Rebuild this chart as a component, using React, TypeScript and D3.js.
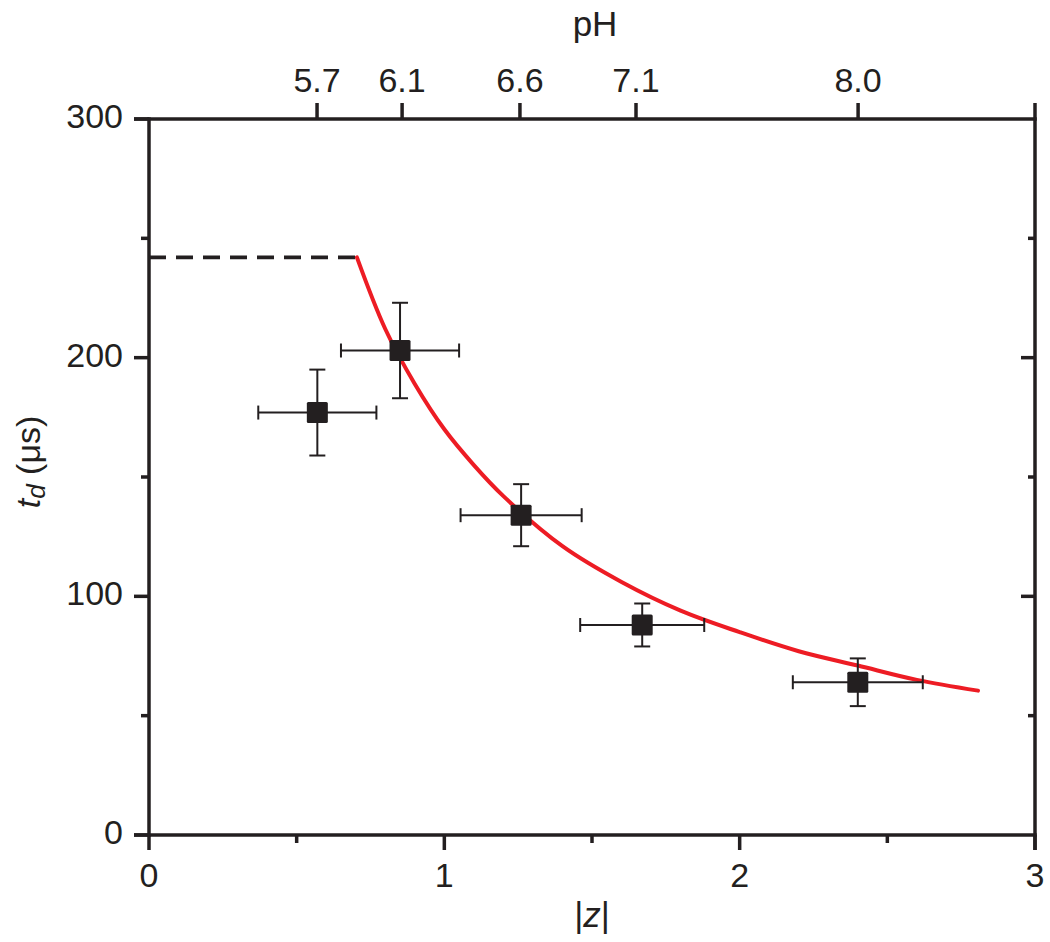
import React from "react";
import * as d3 from "d3";

// ---- data ----
const zValues = [0.57, 0.85, 1.26, 1.67, 2.4];
const tdValues = [177, 203, 134, 88, 64];
const zErrors = [0.2, 0.2, 0.205, 0.21, 0.22];
const tdErrors = [18, 20, 13, 9, 10];

const fitZ = [0.704, 0.8, 0.9, 1.0, 1.1, 1.2, 1.4, 1.6, 1.8, 2.0, 2.2, 2.4, 2.6, 2.807];
const fitTd = [242, 212, 189, 170, 155, 142, 121, 106, 94, 85, 77, 71, 65, 60.5];

const plateauZ = [0, 0.704];
const plateauTd = [242, 242];

const xMajorTicks = [0, 1, 2, 3];
const xMinorTicks = [0.5, 1.5, 2.5];
const yMajorTicks = [0, 100, 200, 300];
const yMinorTicks = [50, 150, 250];

const pHTickPos = [0.569, 0.857, 1.256, 1.649, 2.401];
const pHTickLabels = ["5.7", "6.1", "6.6", "7.1", "8.0"];

// ---- layout ----
const W = 1050;
const H = 942;
const left = 149;
const right = 1035;
const top = 119;
const bottom = 835;
const FONT = "'Liberation Sans', Arial, Helvetica, sans-serif";
const INK = "#231f20";
const RED = "#ed1c24";
const AXW = 3.5;
const MAJ = 15;
const MIN = 8;

export default function App() {
  const x = d3.scaleLinear().domain([0, 3]).range([left, right]);
  const y = d3.scaleLinear().domain([0, 300]).range([bottom, top]);

  const fitLine = d3
    .line<number>()
    .x((_, i) => x(fitZ[i]))
    .y((d) => y(d))
    .curve(d3.curveCatmullRom.alpha(0.5));
  const plateauLine = d3
    .line<number>()
    .x((_, i) => x(plateauZ[i]))
    .y((d) => y(d));

  return (
    <svg
      width={W}
      height={H}
      viewBox={`0 0 ${W} ${H}`}
      style={{ position: "absolute", left: 0, top: 0, background: "#fff" }}
      fontFamily={FONT}
    >
      <rect x={0} y={0} width={W} height={H} fill="#fff" />

      {/* axes frame */}
      <g stroke={INK} strokeWidth={AXW} strokeLinecap="butt" fill="none">
        <line x1={left} y1={top - AXW / 2} x2={left} y2={bottom + AXW / 2} />
        <line x1={right} y1={top - 16} x2={right} y2={bottom + MAJ} />
        <line x1={left - MAJ} y1={top} x2={right + AXW / 2} y2={top} />
        <line x1={left - MAJ} y1={bottom} x2={right + AXW / 2} y2={bottom} />

        {/* left ticks (outward) */}
        {yMajorTicks.map((t) => (
          <line key={"ly" + t} x1={left - MAJ} x2={left} y1={y(t)} y2={y(t)} />
        ))}
        {yMinorTicks.map((t) => (
          <line key={"lym" + t} x1={left - MIN} x2={left} y1={y(t)} y2={y(t)} />
        ))}
        {/* right ticks (inward) */}
        {yMajorTicks
          .filter((t) => t !== 0 && t !== 300)
          .map((t) => (
            <line key={"ry" + t} x1={right - 14} x2={right} y1={y(t)} y2={y(t)} />
          ))}
        {yMinorTicks.map((t) => (
          <line key={"rym" + t} x1={right - 7} x2={right} y1={y(t)} y2={y(t)} />
        ))}
        {/* bottom ticks (outward) */}
        {xMajorTicks.map((t) => (
          <line key={"bx" + t} x1={x(t)} x2={x(t)} y1={bottom} y2={bottom + MAJ} />
        ))}
        {xMinorTicks.map((t) => (
          <line key={"bxm" + t} x1={x(t)} x2={x(t)} y1={bottom} y2={bottom + MIN} />
        ))}
        {/* top pH ticks (outward) */}
        {pHTickPos.map((t) => (
          <line key={"tx" + t} x1={x(t)} x2={x(t)} y1={top} y2={top - 16} />
        ))}
      </g>

      {/* tick labels */}
      <g fill={INK} fontSize={34}>
        {yMajorTicks.map((t) => (
          <text key={"lyl" + t} x={left - 26} y={y(t) + 9} textAnchor="end">
            {t}
          </text>
        ))}
        {xMajorTicks.map((t) => (
          <text key={"bxl" + t} x={x(t)} y={887} textAnchor="middle">
            {t}
          </text>
        ))}
        {pHTickPos.map((t, i) => (
          <text key={"txl" + t} x={x(t)} y={92} textAnchor="middle">
            {pHTickLabels[i]}
          </text>
        ))}
      </g>

      {/* axis titles */}
      <text x={(left + right) / 2 + 3} y={36} textAnchor="middle" fontSize={35} fill={INK}>
        pH
      </text>
      <text x={(left + right) / 2} y={927} textAnchor="middle" fontSize={35} fill={INK}>
        |<tspan fontStyle="italic">z</tspan>|
      </text>
      <text
        transform={`translate(40, 462) rotate(-90)`}
        textAnchor="middle"
        fontSize={34}
        fill={INK}
      >
        <tspan fontStyle="italic">t</tspan>
        <tspan fontStyle="italic" fontSize={26} dy={5}>
          d
        </tspan>
        <tspan dy={-5}> (μs)</tspan>
      </text>

      {/* plateau dashed line */}
      <path
        d={plateauLine(plateauTd) || ""}
        fill="none"
        stroke={INK}
        strokeWidth={3.8}
        strokeDasharray="17 10"
      />

      {/* fit curve */}
      <path
        d={fitLine(fitTd) || ""}
        fill="none"
        stroke={RED}
        strokeWidth={4}
        strokeLinecap="round"
      />

      {/* data points with error bars */}
      {zValues.map((z, i) => {
        const cx = x(z);
        const cy = y(tdValues[i]);
        const x0 = x(z - zErrors[i]);
        const x1 = x(z + zErrors[i]);
        const y0 = y(tdValues[i] + tdErrors[i]);
        const y1 = y(tdValues[i] - tdErrors[i]);
        return (
          <g key={"pt" + i} stroke={INK} strokeWidth={2}>
            <line x1={x0} x2={x1} y1={cy} y2={cy} />
            <line x1={cx} x2={cx} y1={y0} y2={y1} />
            <line x1={x0} x2={x0} y1={cy - 7} y2={cy + 7} />
            <line x1={x1} x2={x1} y1={cy - 7} y2={cy + 7} />
            <line x1={cx - 8} x2={cx + 8} y1={y0} y2={y0} />
            <line x1={cx - 8} x2={cx + 8} y1={y1} y2={y1} />
            <rect
              x={cx - 10.5}
              y={cy - 10.5}
              width={21}
              height={21}
              rx={1.5}
              fill={INK}
              stroke="none"
            />
          </g>
        );
      })}
    </svg>
  );
}
